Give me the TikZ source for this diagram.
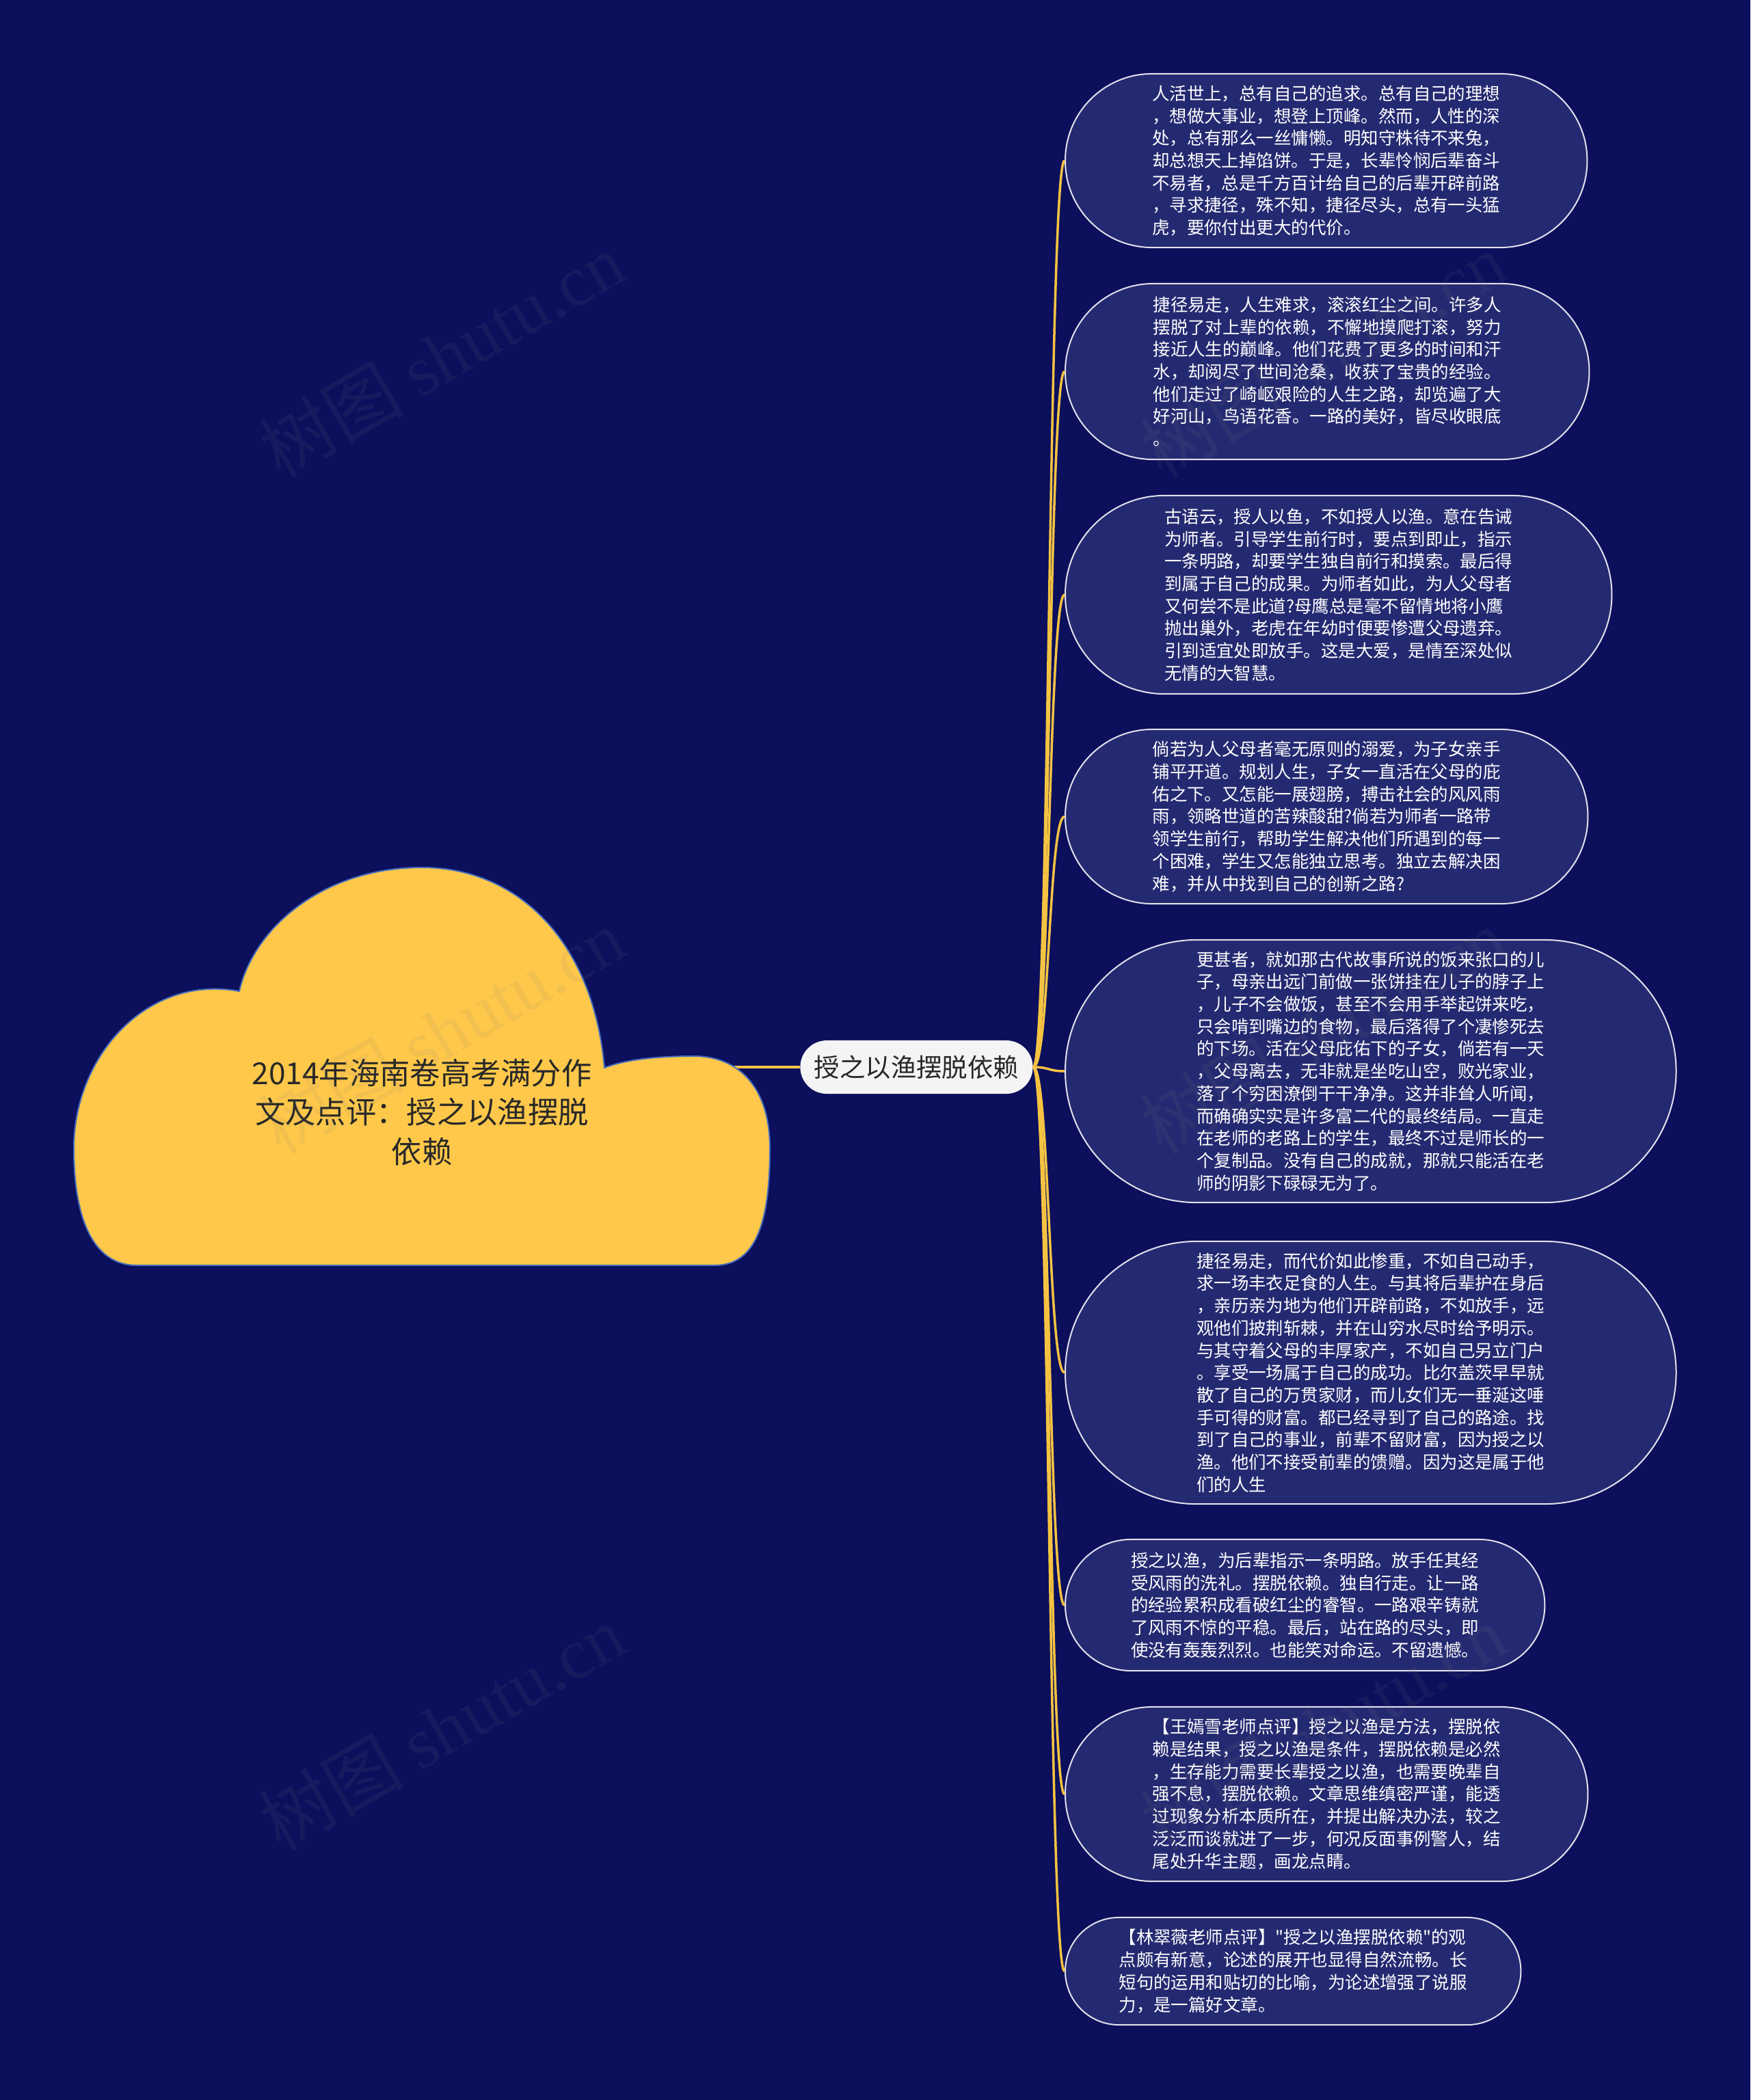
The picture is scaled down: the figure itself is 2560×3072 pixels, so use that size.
\documentclass[tikz,border=0pt]{standalone}
\usepackage{fontspec}
\setmainfont{Noto Sans CJK SC}[Ligatures=TeXOff]
\newfontfamily\wmserif{Liberation Serif}
\definecolor{bg}{RGB}{11,15,92}
\definecolor{boxfill}{RGB}{36,42,113}
\definecolor{boxline}{RGB}{225,225,235}
\definecolor{connc}{RGB}{245,195,66}
\definecolor{cloudfill}{RGB}{255,200,74}
\definecolor{cloudline}{RGB}{70,110,190}
\definecolor{nodefill}{RGB}{244,244,244}
\definecolor{darktext}{RGB}{40,40,40}
\begin{document}
\begin{tikzpicture}[x=0.01cm,y=-0.01cm,
  txtbox/.style={rectangle, draw=boxline, line width=0.02cm, fill=boxfill,
    text=white, inner sep=0pt, text width=5.09cm, align=left, anchor=west,
    font=\fontsize{7.24pt}{9.3pt}\selectfont},
  conn/.style={draw=connc, line width=0.035cm},
  wmark/.style={rotate=30, opacity=0.1, text=gray, font=\fontsize{30pt}{30pt}\selectfont}]
\fill[bg] (0,0) rectangle (2560,3072);
\useasboundingbox (0,0) rectangle (2560,3072);

% main topic connector (drawn first, hidden under cloud)
\coordinate (cloudE) at (1060,1561);
\node[rectangle, fill=nodefill, minimum height=0.78cm, minimum width=3.40cm, inner sep=0pt,
  rounded corners=0.389cm, text=darktext, font=\fontsize{10.65pt}{12pt}\selectfont] (c) at (1340.5,1561) {授之以渔摆脱依赖};
\draw[conn, line width=0.045cm] (cloudE) -- (c.west);

% cloud
\filldraw[fill=cloudfill, draw=cloudline, line width=0.02cm]
  (200,1851) -- (1045,1851)
  .. controls (1105,1851) and (1126,1790) .. (1126,1680)
  .. controls (1126,1590) and (1080,1545) .. (1015,1545)
  .. controls (960,1545) and (915,1550) .. (884,1562)
  .. controls (868,1380) and (760,1269) .. (617,1269)
  .. controls (475,1269) and (372,1355) .. (350,1450)
  .. controls (215,1425) and (108,1545) .. (108,1680)
  .. controls (108,1790) and (140,1851) .. (200,1851) -- cycle;
\node[align=center, text=darktext, font=\fontsize{12.6pt}{16.4pt}\selectfont] (title) at (617,1627)
  {2014年海南卷高考满分作\\文及点评：授之以渔摆脱\\依赖};

% boxes
\node[txtbox, minimum height=2.54cm, minimum width=7.63cm, rounded corners=1.269cm] (b1) at (1557,235) {人活世上，总有自己的追求。总有自己的理想\\，想做大事业，想登上顶峰。然而，人性的深\\处，总有那么一丝慵懒。明知守株待不来兔，\\却总想天上掉馅饼。于是，长辈怜悯后辈奋斗\\不易者，总是千方百计给自己的后辈开辟前路\\，寻求捷径，殊不知，捷径尽头，总有一头猛\\虎，要你付出更大的代价。};
\node[txtbox, minimum height=2.57cm, minimum width=7.66cm, rounded corners=1.284cm] (b2) at (1557,543.5) {捷径易走，人生难求，滚滚红尘之间。许多人\\摆脱了对上辈的依赖，不懈地摸爬打滚，努力\\接近人生的巅峰。他们花费了更多的时间和汗\\水，却阅尽了世间沧桑，收获了宝贵的经验。\\他们走过了崎岖艰险的人生之路，却览遍了大\\好河山，鸟语花香。一路的美好，皆尽收眼底\\。};
\node[txtbox, minimum height=2.90cm, minimum width=7.99cm, rounded corners=1.449cm] (b3) at (1557,870) {古语云，授人以鱼，不如授人以渔。意在告诫\\为师者。引导学生前行时，要点到即止，指示\\一条明路，却要学生独自前行和摸索。最后得\\到属于自己的成果。为师者如此，为人父母者\\又何尝不是此道?母鹰总是毫不留情地将小鹰\\抛出巢外，老虎在年幼时便要惨遭父母遗弃。\\引到适宜处即放手。这是大爱，是情至深处似\\无情的大智慧。};
\node[txtbox, minimum height=2.55cm, minimum width=7.64cm, rounded corners=1.274cm] (b4) at (1557,1194.5) {倘若为人父母者毫无原则的溺爱，为子女亲手\\铺平开道。规划人生，子女一直活在父母的庇\\佑之下。又怎能一展翅膀，搏击社会的风风雨\\雨，领略世道的苦辣酸甜?倘若为师者一路带\\领学生前行，帮助学生解决他们所遇到的每一\\个困难，学生又怎能独立思考。独立去解决困\\难，并从中找到自己的创新之路?};
\node[txtbox, minimum height=3.84cm, minimum width=8.93cm, rounded corners=1.919cm] (b5) at (1557,1567) {更甚者，就如那古代故事所说的饭来张口的儿\\子，母亲出远门前做一张饼挂在儿子的脖子上\\，儿子不会做饭，甚至不会用手举起饼来吃，\\只会啃到嘴边的食物，最后落得了个凄惨死去\\的下场。活在父母庇佑下的子女，倘若有一天\\，父母离去，无非就是坐吃山空，败光家业，\\落了个穷困潦倒干干净净。这并非耸人听闻，\\而确确实实是许多富二代的最终结局。一直走\\在老师的老路上的学生，最终不过是师长的一\\个复制品。没有自己的成就，那就只能活在老\\师的阴影下碌碌无为了。};
\node[txtbox, minimum height=3.84cm, minimum width=8.93cm, rounded corners=1.919cm] (b6) at (1557,2008) {捷径易走，而代价如此惨重，不如自己动手，\\求一场丰衣足食的人生。与其将后辈护在身后\\，亲历亲为地为他们开辟前路，不如放手，远\\观他们披荆斩棘，并在山穷水尽时给予明示。\\与其守着父母的丰厚家产，不如自己另立门户\\。享受一场属于自己的成功。比尔盖茨早早就\\散了自己的万贯家财，而儿女们无一垂涎这唾\\手可得的财富。都已经寻到了自己的路途。找\\到了自己的事业，前辈不留财富，因为授之以\\渔。他们不接受前辈的馈赠。因为这是属于他\\们的人生};
\node[txtbox, minimum height=1.92cm, minimum width=7.01cm, rounded corners=0.959cm] (b7) at (1557,2348) {授之以渔，为后辈指示一条明路。放手任其经\\受风雨的洗礼。摆脱依赖。独自行走。让一路\\的经验累积成看破红尘的睿智。一路艰辛铸就\\了风雨不惊的平稳。最后，站在路的尽头，即\\使没有轰轰烈烈。也能笑对命运。不留遗憾。};
\node[txtbox, minimum height=2.55cm, minimum width=7.64cm, rounded corners=1.274cm] (b8) at (1557,2624.5) {【王嫣雪老师点评】授之以渔是方法，摆脱依\\赖是结果，授之以渔是条件，摆脱依赖是必然\\，生存能力需要长辈授之以渔，也需要晚辈自\\强不息，摆脱依赖。文章思维缜密严谨，能透\\过现象分析本质所在，并提出解决办法，较之\\泛泛而谈就进了一步，何况反面事例警人，结\\尾处升华主题，画龙点睛。};
\node[txtbox, minimum height=1.57cm, minimum width=6.66cm, rounded corners=0.784cm] (b9) at (1557,2883.5) {【林翠薇老师点评】"授之以渔摆脱依赖"的观\\点颇有新意，论述的展开也显得自然流畅。长\\短句的运用和贴切的比喻，为论述增强了说服\\力，是一篇好文章。};

% connectors
\foreach \b in {b1,b2,b3,b4,b5,b6,b7,b8,b9}
  \draw[conn] (c.east) .. controls +(23.5,0) and +(-23.5,0) .. (\b.west);

% watermarks
\foreach \p in {(646,519),(646,1508),(646,2527),(1935,519),(1935,1508),(1935,2527)}
  \node[wmark] at \p {树图 {\wmserif shutu.cn}};
\end{tikzpicture}
\end{document}
